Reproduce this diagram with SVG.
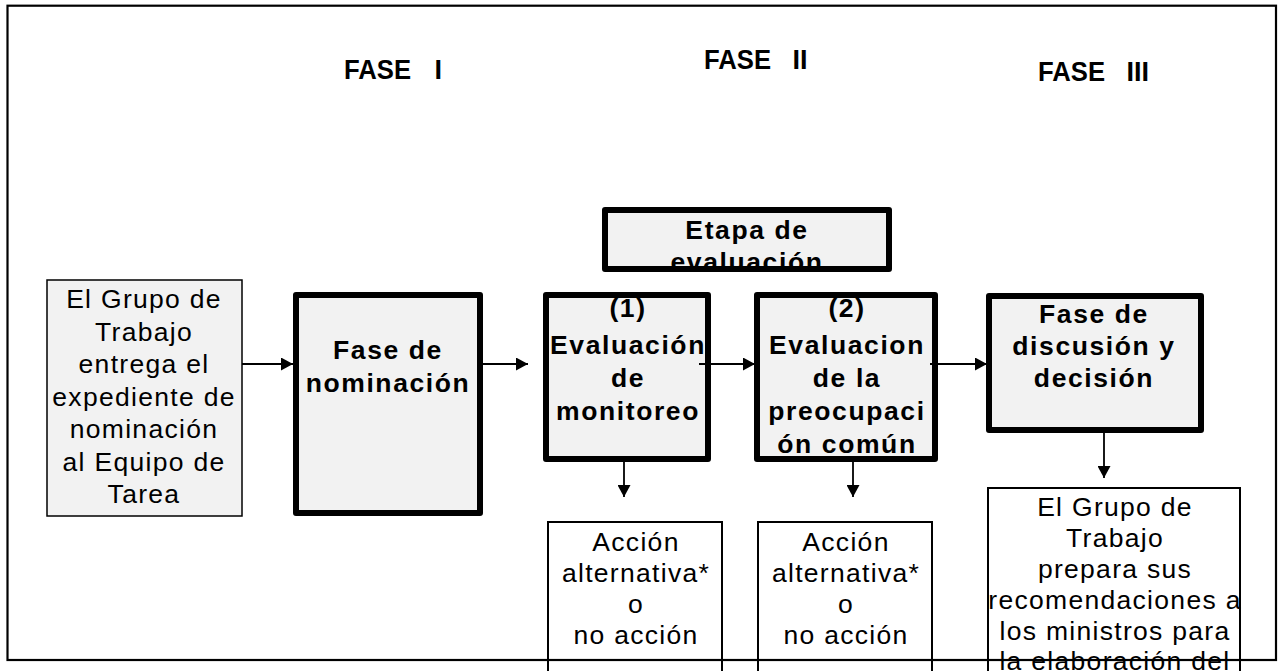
<svg xmlns="http://www.w3.org/2000/svg" width="1282" height="671" viewBox="0 0 1282 671">
<style>
.reg{font-family:"Liberation Sans",Arial,sans-serif;font-size:26.5px;letter-spacing:1.3px;text-anchor:middle;fill:#000}
.bold{font-family:"Liberation Sans",Arial,sans-serif;font-size:26.5px;font-weight:bold;letter-spacing:1.6px;text-anchor:middle;fill:#000}
.phase{font-family:"Liberation Sans",Arial,sans-serif;font-size:27px;font-weight:bold;fill:#000}
.thick{fill:#f2f2f2;stroke:#000;stroke-width:6;stroke-linejoin:round}
.thin{fill:#f2f2f2;stroke:#000;stroke-width:1.5}
.white{fill:#fff;stroke:#000;stroke-width:2}
.conn{stroke:#000;stroke-width:1.8;fill:none}
</style>
<defs>
<marker id="arr" viewBox="0 0 12 13" refX="12" refY="6.5" markerWidth="12" markerHeight="13" markerUnits="userSpaceOnUse" orient="auto">
<path d="M0,0 L12,6.5 L0,13 z" fill="#000"/>
</marker>
</defs>
<rect x="0" y="0" width="1282" height="671" fill="#fff"/>

<g id="phases">
<text class="phase" y="79"><tspan x="344" textLength="67" lengthAdjust="spacingAndGlyphs">FASE</tspan><tspan x="427"> I</tspan></text>
<text class="phase" y="69"><tspan x="704" textLength="67" lengthAdjust="spacingAndGlyphs">FASE</tspan><tspan x="785"> II</tspan></text>
<text class="phase" y="81"><tspan x="1038" textLength="67" lengthAdjust="spacingAndGlyphs">FASE</tspan><tspan x="1119"> III</tspan></text>
</g>

<g id="node-entrega">
<rect class="thin" x="47" y="280" width="195" height="236"/>
<text class="reg" x="144" y="308">El Grupo de</text>
<text class="reg" x="144" y="340.5">Trabajo</text>
<text class="reg" x="144" y="373">entrega el</text>
<text class="reg" x="144" y="405.5">expediente de</text>
<text class="reg" x="144" y="438">nominación</text>
<text class="reg" x="144" y="470.5">al Equipo de</text>
<text class="reg" x="144" y="503">Tarea</text>
</g>

<g id="node-nominacion">
<rect class="thick" x="296" y="295" width="184" height="218"/>
<text class="bold" x="388" y="359">Fase de</text>
<text class="bold" x="388" y="392">nominación</text>
</g>

<g id="node-etapa">
<rect x="605" y="210" width="284" height="59" fill="#f2f2f2"/>
<text class="bold" x="747" y="239">Etapa de</text>
<text class="bold" x="747" y="271">evaluación</text>
<rect x="605" y="210" width="284" height="59" fill="none" stroke="#000" stroke-width="6" stroke-linejoin="round"/>
</g>

<g id="node-eval1">
<rect class="thick" x="546" y="295" width="162" height="164"/>
<text class="bold" x="628" y="317">(1)</text>
<text class="bold" x="628" y="354">Evaluación</text>
<text class="bold" x="628" y="387">de</text>
<text class="bold" x="628" y="420">monitoreo</text>
</g>

<g id="node-eval2">
<rect class="thick" x="757" y="295" width="178" height="164"/>
<text class="bold" x="847" y="317">(2)</text>
<text class="bold" x="847" y="354">Evaluacion</text>
<text class="bold" x="847" y="387">de la</text>
<text class="bold" x="847" y="420">preocupaci</text>
<text class="bold" x="847" y="453">ón común</text>
</g>

<g id="node-discusion">
<rect class="thick" x="989" y="296" width="212" height="134"/>
<text class="bold" x="1094" y="323">Fase de</text>
<text class="bold" x="1094" y="355">discusión y</text>
<text class="bold" x="1094" y="387">decisión</text>
</g>

<g id="node-accion1">
<rect class="white" x="548" y="522" width="174" height="160"/>
<text class="reg" x="636" y="551">Acción</text>
<text class="reg" x="636" y="582">alternativa*</text>
<text class="reg" x="636" y="613">o</text>
<text class="reg" x="636" y="644">no acción</text>
</g>

<g id="node-accion2">
<rect class="white" x="758" y="522" width="174" height="160"/>
<text class="reg" x="846" y="551">Acción</text>
<text class="reg" x="846" y="582">alternativa*</text>
<text class="reg" x="846" y="613">o</text>
<text class="reg" x="846" y="644">no acción</text>
</g>

<g id="node-recomendaciones">
<rect class="white" x="988" y="488" width="252" height="200"/>
<text class="reg" x="1115" y="516">El Grupo de</text>
<text class="reg" x="1115" y="547">Trabajo</text>
<text class="reg" x="1115" y="578">prepara sus</text>
<text class="reg" x="1115" y="609">recomendaciones a</text>
<text class="reg" x="1115" y="640">los ministros para</text>
<text class="reg" x="1115" y="670">la elaboración del</text>
</g>

<g id="connectors">
<line class="conn" x1="242" y1="364" x2="293" y2="364" marker-end="url(#arr)"/>
<line class="conn" x1="482" y1="364" x2="528" y2="364" marker-end="url(#arr)"/>
<line class="conn" x1="699" y1="364" x2="755" y2="364" marker-end="url(#arr)"/>
<line class="conn" x1="930" y1="364" x2="987" y2="364" marker-end="url(#arr)"/>
<line class="conn" x1="624" y1="462" x2="624" y2="497" marker-end="url(#arr)"/>
<line class="conn" x1="853" y1="462" x2="853" y2="497" marker-end="url(#arr)"/>
<line class="conn" x1="1104" y1="433" x2="1104" y2="478" marker-end="url(#arr)"/>
</g>

<g id="frame">
<rect x="7.5" y="5.7" width="1268.5" height="654.3" fill="none" stroke="#000" stroke-width="2.2"/>
</g>
</svg>
